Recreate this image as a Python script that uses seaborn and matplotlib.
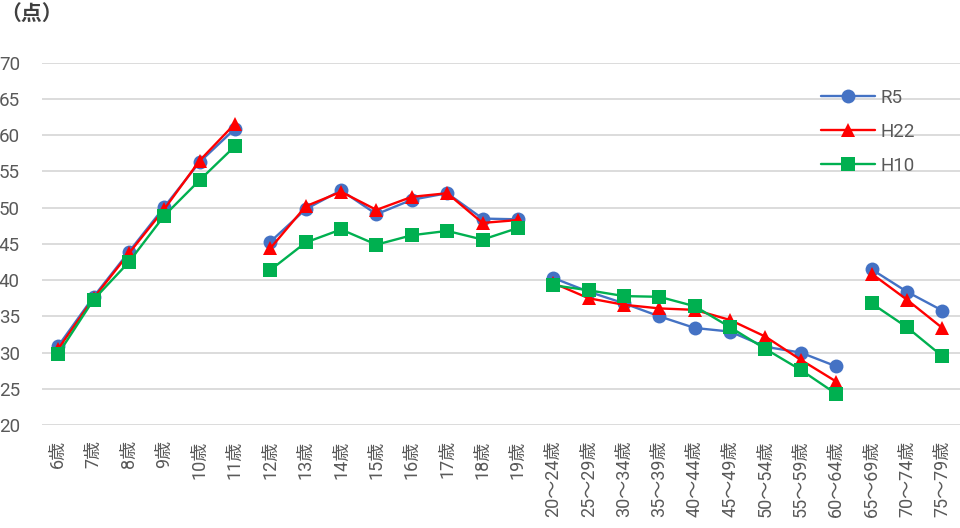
import numpy as np
import pandas as pd
import matplotlib
matplotlib.use("Agg")
import matplotlib.pyplot as plt
import seaborn as sns
from matplotlib.lines import Line2D

categories = ["6歳", "7歳", "8歳", "9歳", "10歳", "11歳",
              "12歳", "13歳", "14歳", "15歳", "16歳", "17歳", "18歳", "19歳",
              "20～24歳", "25～29歳", "30～34歳", "35～39歳", "40～44歳",
              "45～49歳", "50～54歳", "55～59歳", "60～64歳",
              "65～69歳", "70～74歳", "75～79歳"]
groups = [0]*6 + [1]*8 + [2]*9 + [3]*3

r5 = [30.9, 37.7, 43.9, 50.1, 56.3, 60.9,
      45.3, 49.8, 52.4, 49.1, 51.1, 52.0, 48.5, 48.4,
      40.3, 38.4, 36.8, 35.0, 33.4, 32.9, 30.8, 30.0, 28.1,
      41.5, 38.4, 35.8]
h22 = [30.5, 37.5, 43.7, 49.8, 56.5, 61.6,
       44.4, 50.2, 52.2, 49.7, 51.5, 52.0, 47.9, 48.3,
       39.6, 37.5, 36.6, 36.1, 35.9, 34.5, 32.2, 29.0, 26.0,
       40.9, 37.3, 33.4]
h10 = [29.8, 37.3, 42.5, 48.9, 53.8, 58.5,
       41.4, 45.2, 47.0, 44.9, 46.2, 46.8, 45.6, 47.2,
       39.3, 38.6, 37.8, 37.7, 36.4, 33.5, 30.5, 27.6, 24.3,
       36.8, 33.5, 29.5]
series_names = ["R5", "H22", "H10"]
y_ticks = [20, 25, 30, 35, 40, 45, 50, 55, 60, 65, 70]

rows = []
for name, vals in zip(series_names, [r5, h22, h10]):
    for i, (c, g, v) in enumerate(zip(categories, groups, vals)):
        rows.append({"pos": i, "cat": c, "group": g, "series": name, "value": v})
df = pd.DataFrame(rows)

sns.set_theme(style="white")
plt.rcParams["font.family"] = ["Roboto", "Noto Sans CJK JP", "DejaVu Sans"]

fig = plt.figure(figsize=(9.6, 5.28), dpi=100)
ax = fig.add_axes([0.044, 0.195, 0.956, 0.686])

palette = {"R5": "#4472C4", "H22": "#FF0000", "H10": "#00B050"}
markers = {"R5": "o", "H22": "^", "H10": "s"}
sizes = {"R5": 10, "H22": 10.5, "H10": 9.5}
lw = 1.7

for name in series_names:
    sub = df[df.series == name]
    sns.lineplot(data=sub, x="pos", y="value", units="group", estimator=None,
                 color=palette[name], marker=markers[name], markersize=sizes[name],
                 markeredgewidth=0, linewidth=lw, ax=ax, legend=False)

ax.set_xlim(-0.45, len(categories) - 0.5)
ax.set_ylim(20, 70)
ax.set_yticks(y_ticks)
ax.set_xticks(range(len(categories)))
ax.set_xticklabels(categories, rotation=90, va="top", ha="center")
ax.tick_params(axis="both", length=0, labelsize=13, colors="#595959")
ax.tick_params(axis="y", labelsize=13.5, pad=16)
ax.tick_params(axis="x", pad=11)
ax.set_xlabel("")
ax.set_ylabel("")
ax.yaxis.grid(True, color="#D9D9D9", linewidth=1.3)
ax.xaxis.grid(False)
for s in ax.spines.values():
    s.set_visible(False)
ax.set_axisbelow(True)

handles = [Line2D([0], [0], color=palette[n], marker=markers[n], markersize=sizes[n],
                  markeredgewidth=0, linewidth=lw) for n in series_names]
leg = ax.legend(handles, series_names, loc="upper left", bbox_to_anchor=(0.83, 0.975),
                frameon=False, fontsize=13.5, labelspacing=0.85, handlelength=2.9,
                handletextpad=0.3, labelcolor="#595959")

fig.text(0.0, 0.995, "（点）", ha="left", va="top", fontsize=15, color="#404040",
         fontweight="bold", family=["Noto Sans CJK JP", "DejaVu Sans"])

fig.savefig("out.png", dpi=100)
